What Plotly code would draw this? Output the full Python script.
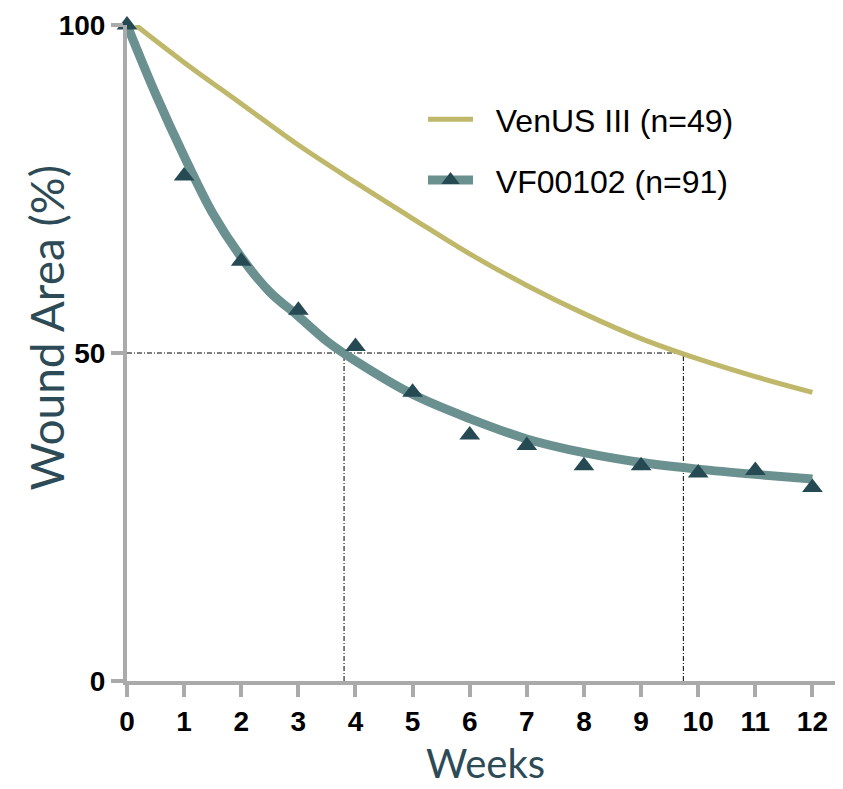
import plotly.graph_objects as go

# Observed VF00102 mean wound area by week
weeks_obs = [0, 1, 2, 3, 4, 5, 6, 7, 8, 9, 10, 11, 12]
vf_obs = [100, 77.0, 64.0, 56.5, 51.0, 44.0, 37.5, 35.9, 32.8, 32.8, 31.7, 32.1, 29.5]

# Fitted VF00102 curve
vf_fit_x = [0, 0.5, 1, 1.5, 2, 2.5, 3, 3.5, 4, 5, 6, 7, 8, 9, 10, 11, 12]
vf_fit_y = [100, 89.5, 80.0, 71.3, 64.6, 59.3, 55.6, 51.8, 48.8, 43.7, 40.0, 36.9, 34.8, 33.3, 32.3, 31.5, 30.8]

# VenUS III curve
venus_x = [0.15, 1, 2, 3, 4, 5, 6, 7, 8, 9, 10, 11, 12]
venus_y = [100, 94.3, 88.0, 81.7, 76.0, 70.5, 65.1, 60.3, 56.0, 52.2, 49.1, 46.4, 44.0]

# Half-area reference
half_level = 50
half_times = [3.8, 9.74]

x_ticks = list(range(0, 13))
y_ticks = [0, 50, 100]

TEAL = "#6a9190"
TEAL_DARK = "#264a53"
KHAKI = "#bfb86b"
TITLE = "#2d4b56"
AXIS = "#aaaaaa"
NB = "\u00a0"
DASH = "5px,2px,1px,2px"

fig = go.Figure()

# reference dash-dot lines
fig.add_trace(go.Scatter(x=[0, half_times[1]], y=[half_level, half_level], mode="lines",
                         line=dict(color="black", width=1, dash=DASH),
                         showlegend=False, hoverinfo="skip"))
for t in half_times:
    fig.add_trace(go.Scatter(x=[t, t], y=[0, half_level], mode="lines",
                             line=dict(color="black", width=1, dash=DASH),
                             showlegend=False, hoverinfo="skip"))

fig.add_trace(go.Scatter(x=venus_x, y=venus_y, mode="lines", name=NB * 2 + "VenUS III (n=49)",
                         line=dict(color=KHAKI, width=5, shape="spline", smoothing=1.0),
                         legend="legend"))

fig.add_trace(go.Scatter(x=vf_fit_x, y=vf_fit_y, mode="lines", showlegend=False,
                         line=dict(color=TEAL, width=9, shape="spline", smoothing=1.0)))

fig.add_trace(go.Scatter(x=weeks_obs, y=vf_obs, mode="markers", showlegend=False,
                         marker=dict(symbol="triangle-up", size=18, color=TEAL_DARK),
                         cliponaxis=False))

# legend entry for VF00102 (line + marker)
fig.add_trace(go.Scatter(x=[None], y=[None], mode="lines+markers", name=NB * 2 + "VF00102 (n=91)",
                         line=dict(color=TEAL, width=9),
                         marker=dict(symbol="triangle-up", size=18, color=TEAL_DARK),
                         legend="legend2"))

# page has an 8px body margin
OFF = 8
W, H = 843 - OFF, 789 - OFF
L, R, T, B = 127 - OFF, 2, 22 - OFF, 108
pw, ph = W - L - R, H - T - B


def px_x(px):
    return (px - OFF - L) / pw


def px_y(py):
    return (H - B - (py - OFF)) / ph


legend_common = dict(font=dict(family="Liberation Sans, Arial, sans-serif", size=32, color="black"),
                     bgcolor="rgba(0,0,0,0)", itemwidth=45, xanchor="left", yanchor="middle")

tickfont = dict(family="Liberation Sans, Arial, sans-serif", size=28, color="black", weight="bold")

fig.update_layout(
    width=W, height=H,
    margin=dict(l=L, r=R, t=T, b=B),
    plot_bgcolor="white", paper_bgcolor="white",
    legend=dict(x=px_x(423), y=px_y(117), **legend_common),
    legend2=dict(x=px_x(423), y=px_y(178), **legend_common),
    xaxis=dict(range=[0, 12.5], tickvals=x_ticks, ticktext=[str(v) for v in x_ticks],
               showgrid=False, zeroline=False, showline=True, linecolor=AXIS, linewidth=4,
               ticks="outside", ticklen=12, tickwidth=4, tickcolor=AXIS, tickfont=tickfont,
               ticklabeloverflow="allow"),
    yaxis=dict(range=[0, 100], tickvals=y_ticks, ticktext=[str(v) for v in y_ticks],
               showgrid=False, zeroline=False, showline=True, linecolor=AXIS, linewidth=4,
               ticks="outside", ticklen=12, tickwidth=4, tickcolor=AXIS, tickfont=tickfont,
               ticklabeloverflow="allow"),
    annotations=[
        dict(text="Wound Area (%)", textangle=-90, x=px_x(47), y=px_y(326), xref="paper", yref="paper",
             showarrow=False, font=dict(family="Lato, sans-serif", size=46, color=TITLE),
             xanchor="center", yanchor="middle"),
        dict(text="Weeks", x=px_x(485), y=px_y(789), xref="paper", yref="paper",
             showarrow=False, font=dict(family="Lato, sans-serif", size=40, color=TITLE),
             xanchor="center", yanchor="bottom"),
    ],
)

fig.write_html("out.html")
